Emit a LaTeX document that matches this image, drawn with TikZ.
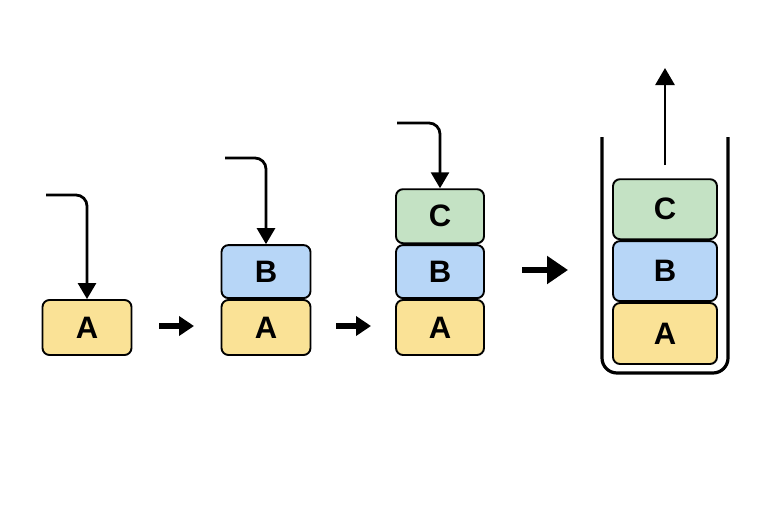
\documentclass[tikz,border=0pt]{standalone}
\usepackage{fontspec}
\setmainfont{Liberation Sans}
\usetikzlibrary{arrows.meta}
\definecolor{yel}{RGB}{250,226,150}
\definecolor{blu}{RGB}{183,214,247}
\definecolor{grn}{RGB}{196,226,196}
\begin{document}
\begin{tikzpicture}[x=1pt,y=-1pt,
  blk/.style={draw=black,line width=1.9pt,rounded corners=7pt,minimum width=#1,inner sep=0pt,font=\bfseries\fontsize{31}{31}\selectfont},
  blk/.default=89pt,
  push/.style={line width=2.8pt,rounded corners=11pt,-{Triangle[length=16pt,width=18pt]}},
  step arrow/.style={line width=5.5pt,-{Triangle[length=15pt,width=19pt]}},
  big arrow/.style={line width=6.5pt,-{Triangle[length=21pt,width=27pt]}}]
\useasboundingbox (0,0) rectangle (768,512);
% stack 1
\node[blk,fill=yel,minimum height=55pt] (a1) at (87,327.5) {A};
\coordinate (s1) at (46,195);
\draw[push] (s1) -| (a1.north);
% arrow 1
\coordinate (p1) at (159,326);
\coordinate (q1) at (194,326);
\draw[step arrow] (p1) -- (q1);
% stack 2
\node[blk,fill=yel,minimum height=55pt] (a2) at (266,327.5) {A};
\node[blk,fill=blu,minimum height=53pt,anchor=south] (b2) at (a2.north) {B};
\coordinate (s2) at (225,158);
\draw[push] (s2) -| (b2.north);
% arrow 2
\coordinate (p2) at (336,326);
\coordinate (q2) at (371,326);
\draw[step arrow] (p2) -- (q2);
% stack 3
\node[blk=88pt,fill=yel,minimum height=55pt] (a3) at (440,327.5) {A};
\node[blk=88pt,fill=blu,minimum height=53pt,anchor=south] (b3) at (a3.north) {B};
\node[blk=88pt,fill=grn,minimum height=54pt,anchor=south] (c3) at (b3.north) {C};
\coordinate (s3) at (397,123);
\draw[push] (s3) -| (c3.north);
% arrow 3
\coordinate (p3) at (522,270);
\coordinate (q3) at (568,270);
\draw[big arrow] (p3) -- (q3);
% container
\coordinate (wl) at (602,137);
\coordinate (wr) at (728,137);
\draw[line width=3.2pt,rounded corners=15pt] (wl) -- (602,373) -- (728,373) -- (wr);
\node[blk=104pt,fill=yel,minimum height=61pt] (a4) at (665,333.5) {A};
\node[blk=104pt,fill=blu,minimum height=60pt,anchor=south] (b4) at (a4.north) {B};
\node[blk=104pt,fill=grn,minimum height=60pt,anchor=south] (c4) at (b4.north) {C};
\coordinate (u0) at (665,165);
\coordinate (u1) at (665,68);
\draw[line width=2.8pt,-{Triangle[length=17pt,width=19pt]}] (u0) -- (u1);
\end{tikzpicture}
\end{document}
